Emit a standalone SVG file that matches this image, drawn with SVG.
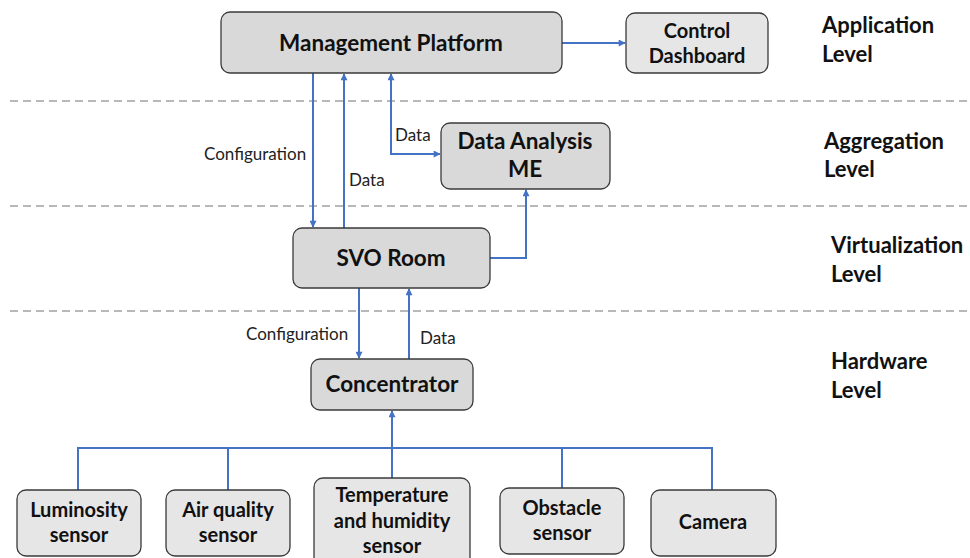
<svg xmlns="http://www.w3.org/2000/svg" width="970" height="558" viewBox="0 0 970 558">
<defs>
<marker id="ah" viewBox="0 0 10 10" refX="9" refY="5" markerWidth="8" markerHeight="7" orient="auto-start-reverse" markerUnits="userSpaceOnUse"><path d="M0,0 L10,5 L0,10 z" fill="#4472c4"/></marker>
<style>
.bx{fill:#d9d9d9;stroke:#3a3a3a;stroke-width:1.3}
.bl{fill:#e6e6e6;stroke:#3a3a3a;stroke-width:1.3}
.t{font-family:Lato,"Liberation Sans",sans-serif;font-weight:bold;font-size:22.5px;fill:#111;text-anchor:middle}
.ts{font-family:Lato,"Liberation Sans",sans-serif;font-weight:bold;font-size:20px;fill:#111;text-anchor:middle}
.lv{font-family:Lato,"Liberation Sans",sans-serif;font-weight:bold;font-size:22px;fill:#111}
.lb{font-family:Lato,"Liberation Sans",sans-serif;font-size:17px;fill:#222}
.c{fill:none;stroke:#4472c4;stroke-width:2}
.a{marker-end:url(#ah)}
.d{stroke:#b8b8b8;stroke-width:2;stroke-dasharray:8 5;fill:none}
</style>
</defs>
<g id="dividers">
<line class="d" x1="10" y1="101" x2="970" y2="101"/>
<line class="d" x1="10" y1="206" x2="970" y2="206"/>
<line class="d" x1="10" y1="311" x2="970" y2="311"/>
</g>
<g id="levels">
<text class="lv" x="822" y="33">Application</text><text class="lv" x="822" y="62">Level</text>
<text class="lv" x="824" y="149">Aggregation</text><text class="lv" x="824" y="177">Level</text>
<text class="lv" x="831" y="253">Virtualization</text><text class="lv" x="831" y="282">Level</text>
<text class="lv" x="831" y="369">Hardware</text><text class="lv" x="831" y="398">Level</text>
</g>
<g id="connectors">
<path class="c a" d="M562,43 H625"/>
<path class="c a" d="M313,73 V227"/>
<path class="c a" d="M344,228 V74"/>
<path class="c a" d="M391,155 V74"/>
<path class="c a" d="M391,154 H440"/>
<path class="c a" d="M490,258 H526 V190"/>
<path class="c a" d="M359,288 V358"/>
<path class="c a" d="M409,359 V289"/>
<path class="c a" d="M392,478 V411"/>
<path class="c" d="M78,490 V448 H712 V490"/>
<path class="c" d="M228,448 V490"/>
<path class="c" d="M562,448 V488"/>
<text class="lb" x="204" y="160">Configuration</text>
<text class="lb" x="349" y="186">Data</text>
<text class="lb" x="395" y="141">Data</text>
<text class="lb" x="246" y="340">Configuration</text>
<text class="lb" x="420" y="344">Data</text>
</g>
<g id="management"><rect class="bx" x="221" y="12" width="341" height="61" rx="9"/><text class="t" x="391" y="51">Management Platform</text></g>
<g id="dashboard"><rect class="bl" x="626" y="13" width="142" height="60" rx="9"/><text class="ts" x="697" y="38">Control</text><text class="ts" x="697" y="63">Dashboard</text></g>
<g id="analysis"><rect class="bx" x="441" y="123" width="169" height="66" rx="9"/><text class="t" x="525" y="149">Data Analysis</text><text class="t" x="525" y="177">ME</text></g>
<g id="svo"><rect class="bx" x="293" y="228" width="197" height="60" rx="9"/><text class="t" x="391" y="266">SVO Room</text></g>
<g id="concentrator"><rect class="bx" x="311" y="359" width="162" height="51" rx="9"/><text class="t" x="392" y="392">Concentrator</text></g>
<g id="luminosity"><rect class="bl" x="17" y="490" width="124" height="66" rx="9"/><text class="ts" x="79" y="517">Luminosity</text><text class="ts" x="79" y="542">sensor</text></g>
<g id="airquality"><rect class="bl" x="166" y="490" width="124" height="66" rx="9"/><text class="ts" x="228" y="517">Air quality</text><text class="ts" x="228" y="542">sensor</text></g>
<g id="temperature"><rect class="bl" x="314" y="478" width="156" height="90" rx="9"/><text class="ts" x="392" y="502">Temperature</text><text class="ts" x="392" y="528">and humidity</text><text class="ts" x="392" y="553">sensor</text></g>
<g id="obstacle"><rect class="bl" x="500" y="488" width="124" height="66" rx="9"/><text class="ts" x="562" y="515">Obstacle</text><text class="ts" x="562" y="540">sensor</text></g>
<g id="camera"><rect class="bl" x="651" y="490" width="125" height="66" rx="9"/><text class="ts" x="713" y="529">Camera</text></g>
</svg>
